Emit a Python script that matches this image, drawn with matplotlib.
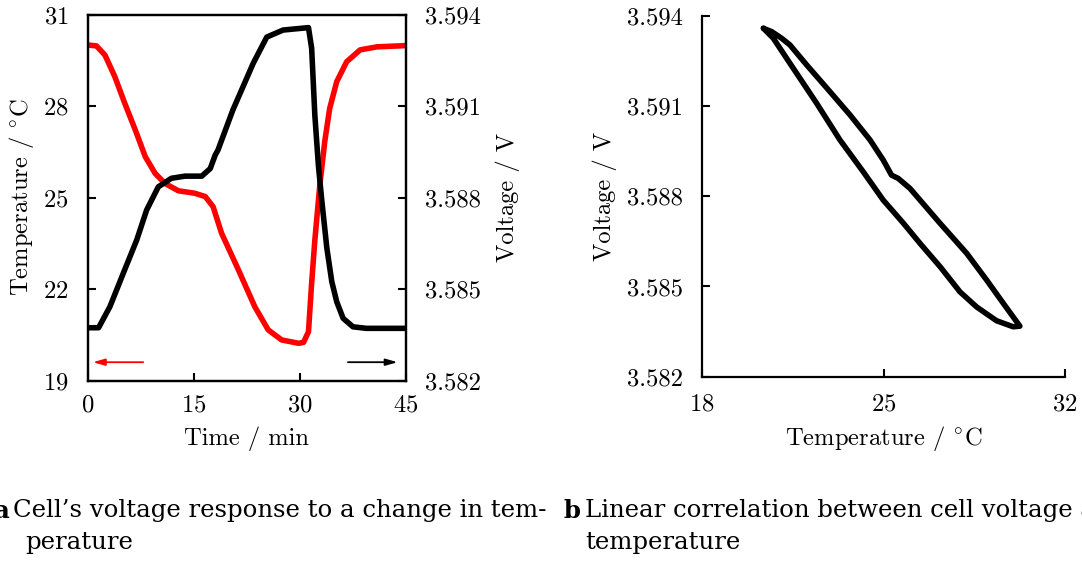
import matplotlib
matplotlib.use('Agg')
import matplotlib.pyplot as plt

plt.rcParams['font.family'] = ['cmr10', 'DejaVu Serif']
plt.rcParams['mathtext.fontset'] = 'cm'
plt.rcParams['axes.formatter.use_mathtext'] = True

# panel a: temperature (red)
time_T = [0, 1.2, 2.4, 3.8, 5.2, 6.7, 8.1, 9.5, 10.9, 12.8, 15.1, 16.6, 17.7,
          18.9, 21.3, 23.6, 25.5, 27.4, 29.8, 30.5, 31.2, 31.65, 32.1, 32.8,
          33.5, 34.2, 35.2, 36.6, 38.5, 40.9, 45.0]
temp = [30.0, 29.97, 29.67, 28.96, 28.09, 27.21, 26.34, 25.79, 25.46, 25.22,
        25.14, 25.03, 24.70, 23.83, 22.62, 21.42, 20.66, 20.33, 20.22, 20.25,
        20.6, 22.2, 23.6, 25.4, 26.83, 27.92, 28.80, 29.45, 29.84, 29.94,
        29.98]

# panel a: voltage (black)
time_V = [0, 1.5, 3.1, 5.0, 6.9, 8.3, 9.95, 11.8, 13.7, 16.1, 17.3, 18.0, 18.4,
          20.5, 23.4, 25.3, 27.6, 31.2, 31.65, 32.1, 32.6, 33.1, 33.8, 34.5,
          35.2, 36.1, 37.5, 39.4, 45.0]
volt = [3.58373, 3.58373, 3.58442, 3.58552, 3.58661, 3.58759, 3.58835,
        3.58863, 3.58870, 3.58870, 3.58895, 3.58939, 3.58956, 3.59087,
        3.59241, 3.59326, 3.59349, 3.59357, 3.59289, 3.59070, 3.58906,
        3.58786, 3.58634, 3.58524, 3.58458, 3.58404, 3.58376, 3.58371,
        3.58371]

# panel b: voltage against temperature loop
loop_T = [20.37, 20.69, 21.07, 21.39, 22.04, 22.94, 23.71, 24.48, 24.99, 25.31,
          25.57, 26.02, 26.41, 27.18, 28.21, 28.98, 29.62, 30.26,
          30.0, 29.36, 28.59, 27.95, 27.18, 26.41, 25.77, 24.99, 24.22, 23.32,
          22.42, 21.39, 20.75, 20.37]
loop_V = [3.59358, 3.59347, 3.59325, 3.59303, 3.59236, 3.59147, 3.59070,
          3.58987, 3.58920, 3.58870, 3.58859, 3.58826, 3.58787, 3.58710,
          3.58610, 3.58521, 3.58444, 3.58368,
          3.58366, 3.58386, 3.58432, 3.58482, 3.58566, 3.58643, 3.58710,
          3.58787, 3.58881, 3.58987, 3.59109, 3.59242, 3.59325, 3.59358]

volt_ticks = [3.582, 3.585, 3.588, 3.591, 3.594]
volt_labels = ['3.582', '3.585', '3.588', '3.591', '3.594']

fs = 17.7
lw = 4.0
arrow = '-|>,head_length=0.7,head_width=0.2'


def style(ax):
    ax.tick_params(direction='in', length=6, width=1.5, labelsize=fs)
    for s in ax.spines.values():
        s.set_linewidth(1.6)


fig = plt.figure(figsize=(10.82, 5.63), dpi=100)

# ---- panel a
ax1 = fig.add_axes([88 / 1082, 1 - 380.5 / 563, 318 / 1082, 366 / 563])
ax1.plot(time_T, temp, color='red', lw=lw, solid_capstyle='round',
         solid_joinstyle='round')
ax1.set_xlim(0, 45)
ax1.set_ylim(19, 31)
ax1.set_xticks([0, 15, 30, 45])
ax1.set_yticks([19, 22, 25, 28, 31])
ax1.set_xlabel('Time / min', fontsize=fs)
ax1.set_ylabel(r'Temperature / $^{\circ}$C', fontsize=fs)
style(ax1)
ax1.tick_params(axis='y', pad=14)
ax1.tick_params(axis='x', pad=10)
ax1.xaxis.set_label_coords(0.5, -0.125)
ax1.yaxis.set_label_coords(-0.162, 0.5)
ax1.annotate('', xy=(0.3, 19.6), xytext=(8.2, 19.6),
             arrowprops=dict(arrowstyle=arrow, color='red', lw=1.3))

ax2 = ax1.twinx()
ax2.plot(time_V, volt, color='black', lw=lw, solid_capstyle='round',
         solid_joinstyle='round')
ax2.set_ylim(3.582, 3.594)
ax2.set_yticks(volt_ticks)
ax2.set_yticklabels(volt_labels)
ax2.set_ylabel('Voltage / V', fontsize=fs)
style(ax2)
ax2.tick_params(axis='y', pad=14)
ax2.yaxis.set_label_coords(1.28, 0.5)
ax2.annotate('', xy=(44.2, 19.6), xytext=(36.4, 19.6),
             xycoords=ax1.transData, textcoords=ax1.transData,
             arrowprops=dict(arrowstyle=arrow, color='black', lw=1.3))

# ---- panel b
ax3 = fig.add_axes([702 / 1082, 1 - 376.7 / 563, 363 / 1082, 361 / 563])
ax3.plot(loop_T, loop_V, color='black', lw=lw, solid_capstyle='round',
         solid_joinstyle='round')
ax3.set_xlim(18, 32)
ax3.set_ylim(3.582, 3.594)
ax3.set_xticks([18, 25, 32])
ax3.set_yticks(volt_ticks)
ax3.set_yticklabels(volt_labels)
ax3.spines['top'].set_visible(False)
ax3.spines['right'].set_visible(False)
ax3.set_xlabel(r'Temperature / $^{\circ}$C', fontsize=fs)
ax3.set_ylabel('Voltage / V', fontsize=fs)
style(ax3)
ax3.tick_params(axis='y', pad=14)
ax3.tick_params(axis='x', pad=12)
ax3.xaxis.set_label_coords(0.5, -0.13)
ax3.yaxis.set_label_coords(-0.234, 0.5)

# ---- captions
cap = dict(family='DejaVu Serif', fontsize=17.6, va='center')
fig.text(-6 / 1082, 1 - 511 / 563, 'a', fontweight='bold', **cap)
fig.text(13 / 1082, 1 - 511 / 563,
         'Cell\u2019s voltage response to a change in tem-', **cap)
fig.text(25 / 1082, 1 - 542 / 563, 'perature', **cap)
fig.text(563 / 1082, 1 - 511 / 563, 'b', fontweight='bold', **cap)
fig.text(585 / 1082, 1 - 511 / 563,
         'Linear correlation between cell voltage and', **cap)
fig.text(585 / 1082, 1 - 542 / 563, 'temperature', **cap)

fig.savefig('out.png', dpi=100)
